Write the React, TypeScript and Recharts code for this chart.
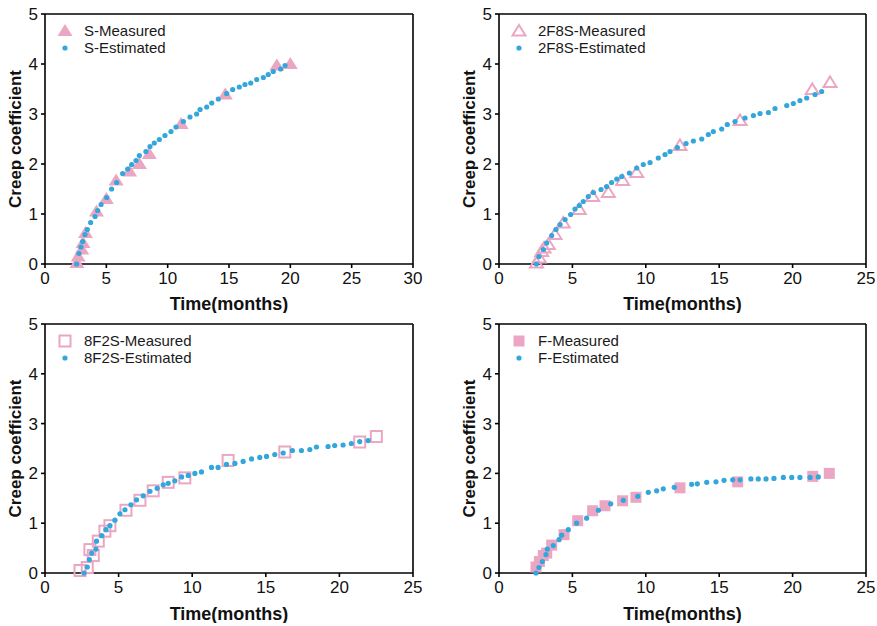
import React from 'react';
import { ScatterChart, Scatter, XAxis, YAxis, ReferenceLine, Legend } from 'recharts';

// measured / estimated creep coefficient vs time (months)
const sMeasured = [
  [2.6, 0.02], [2.7, 0.15], [3.0, 0.29], [3.1, 0.42], [3.3, 0.62], [4.2, 1.05], [5.0, 1.3],
  [5.8, 1.67], [6.9, 1.85], [7.7, 2.0], [8.5, 2.2], [11.1, 2.8], [14.7, 3.39], [18.9, 3.97], [20.0, 4.0],
];
const sEstimated = [
  [2.58, 0.0], [2.77, 0.21], [2.93, 0.34], [3.07, 0.45], [3.26, 0.59], [3.45, 0.69], [3.72, 0.83],
  [4.08, 0.95], [4.29, 1.07], [4.57, 1.19], [5.03, 1.33], [5.43, 1.5], [5.84, 1.63], [6.33, 1.81],
  [6.74, 1.9], [7.07, 1.99], [7.42, 2.07], [7.69, 2.17], [8.23, 2.25], [8.56, 2.35], [8.91, 2.42],
  [9.32, 2.49], [9.78, 2.57], [10.27, 2.65], [10.68, 2.74], [11.28, 2.85], [11.82, 2.94], [12.36, 3.0],
  [12.64, 3.09], [13.18, 3.14], [13.59, 3.22], [14.13, 3.3], [14.81, 3.41], [15.3, 3.49], [15.84, 3.54],
  [16.3, 3.59], [16.77, 3.62], [17.26, 3.69], [17.8, 3.73], [18.2, 3.79], [18.61, 3.85], [19.21, 3.9],
  [19.57, 3.97],
];

const f2s8Measured = [
  [2.55, 0.02], [2.75, 0.12], [2.91, 0.25], [3.07, 0.32], [3.36, 0.39], [3.81, 0.59], [4.38, 0.82],
  [5.47, 1.09], [6.38, 1.35], [7.45, 1.43], [8.42, 1.67], [9.38, 1.83], [12.33, 2.37], [16.42, 2.87],
  [21.34, 3.49], [22.55, 3.63],
];
const f2s8Estimated = [
  [2.55, 0.0], [2.72, 0.15], [3.02, 0.29], [3.25, 0.42], [3.59, 0.57], [3.88, 0.69], [4.16, 0.79],
  [4.5, 0.89], [4.88, 0.99], [5.18, 1.1], [5.47, 1.17], [5.74, 1.25], [6.08, 1.35], [6.43, 1.43],
  [6.95, 1.49], [7.33, 1.55], [7.67, 1.63], [8.02, 1.7], [8.36, 1.75], [8.88, 1.82], [9.38, 1.92],
  [9.83, 1.99], [10.29, 2.03], [10.85, 2.12], [11.31, 2.19], [11.65, 2.25], [12.15, 2.33], [12.74, 2.41],
  [13.24, 2.46], [13.81, 2.5], [14.26, 2.59], [14.6, 2.65], [15.17, 2.7], [15.55, 2.79], [16.08, 2.85],
  [16.76, 2.92], [17.33, 2.97], [17.78, 3.01], [18.35, 3.03], [18.8, 3.11], [19.6, 3.17], [20.05, 3.21],
  [20.5, 3.27], [20.96, 3.32], [21.53, 3.39], [21.98, 3.45],
];

const f8s2Measured = [
  [2.38, 0.05], [2.87, 0.11], [3.05, 0.47], [3.28, 0.35], [3.62, 0.64], [4.07, 0.84], [4.41, 0.95],
  [5.5, 1.26], [6.45, 1.46], [7.35, 1.65], [8.37, 1.82], [9.5, 1.91], [12.44, 2.26], [16.29, 2.43],
  [21.38, 2.63], [22.51, 2.74],
];
const f8s2Estimated = [
  [2.65, 0.0], [2.87, 0.12], [3.01, 0.27], [3.17, 0.4], [3.46, 0.48], [3.5, 0.64], [3.85, 0.75],
  [4.14, 0.87], [4.41, 0.95], [4.75, 1.06], [5.09, 1.19], [5.43, 1.27], [5.84, 1.37], [6.22, 1.47],
  [6.67, 1.55], [7.13, 1.64], [7.62, 1.7], [8.03, 1.77], [8.37, 1.8], [8.82, 1.85], [9.28, 1.93],
  [9.73, 1.96], [10.18, 2.0], [10.63, 2.03], [11.31, 2.12], [11.76, 2.12], [12.33, 2.18], [12.9, 2.2],
  [13.46, 2.24], [14.03, 2.29], [14.59, 2.32], [15.05, 2.34], [15.61, 2.38], [16.18, 2.41], [16.81, 2.46],
  [17.42, 2.46], [17.99, 2.48], [18.44, 2.53], [19.23, 2.54], [19.68, 2.56], [20.25, 2.57], [20.81, 2.6],
  [21.38, 2.64], [21.95, 2.66],
];

const fMeasured = [
  [2.52, 0.12], [2.75, 0.23], [3.02, 0.35], [3.25, 0.4], [3.59, 0.56], [4.43, 0.77], [5.36, 1.05],
  [6.38, 1.25], [7.22, 1.35], [8.42, 1.45], [9.33, 1.52], [12.33, 1.71], [16.26, 1.83], [21.37, 1.94],
  [22.5, 2.0],
];
const fEstimated = [
  [2.52, 0.0], [2.72, 0.11], [2.95, 0.23], [3.2, 0.37], [3.29, 0.48], [3.7, 0.55], [4.09, 0.67],
  [4.27, 0.76], [4.72, 0.87], [5.29, 1.0], [5.97, 1.1], [6.77, 1.26], [7.61, 1.39], [8.47, 1.46],
  [9.45, 1.54], [10.17, 1.62], [10.74, 1.65], [11.19, 1.69], [11.94, 1.72], [13.12, 1.78], [13.51, 1.79],
  [14.15, 1.82], [14.78, 1.83], [15.33, 1.86], [15.92, 1.87], [16.42, 1.87], [17.16, 1.89], [17.66, 1.89],
  [18.19, 1.89], [18.73, 1.9], [19.37, 1.92], [19.94, 1.92], [20.5, 1.92], [21.19, 1.92], [21.75, 1.93],
];

const yTicks = [0, 1, 2, 3, 4, 5];
const xTicks30 = [0, 5, 10, 15, 20, 25, 30];
const xTicks25 = [0, 5, 10, 15, 20, 25];

const PINK = '#eba6c4';
const BLUE = '#33a6db';
const FONT = '"Liberation Sans", Arial, sans-serif';

const toPoints = (arr: number[][]) => arr.map(([x, y]) => ({ x, y }));

type MarkerKind = 'triangle' | 'triangleOpen' | 'squareOpen' | 'square' | 'dot';

const Marker = ({ kind, cx, cy }: { kind: MarkerKind; cx: number; cy: number }) => {
  if (kind === 'triangle') {
    return <path d={`M${cx},${cy - 7} L${cx + 7.5},${cy + 5} L${cx - 7.5},${cy + 5} Z`} fill={PINK} />;
  }
  if (kind === 'triangleOpen') {
    return (
      <path d={`M${cx},${cy - 6} L${cx + 6.5},${cy + 4.5} L${cx - 6.5},${cy + 4.5} Z`}
        fill="none" stroke={PINK} strokeWidth={2} />
    );
  }
  if (kind === 'squareOpen') {
    return <rect x={cx - 5.5} y={cy - 5.5} width={11} height={11} fill="none" stroke={PINK} strokeWidth={2} />;
  }
  if (kind === 'square') {
    return <rect x={cx - 5.5} y={cy - 5.5} width={11} height={11} fill={PINK} />;
  }
  return <circle cx={cx} cy={cy} r={2.6} fill={BLUE} />;
};

const LegendBox = ({ kind, name }: { kind: MarkerKind; name: string }) => (
  <div style={{ fontFamily: FONT, fontSize: 15, color: '#1a1a1a', lineHeight: '17px' }}>
    {[
      { k: kind, label: `${name}-Measured` },
      { k: 'dot' as MarkerKind, label: `${name}-Estimated` },
    ].map((row) => (
      <div key={row.label} style={{ display: 'flex', alignItems: 'center', height: 17 }}>
        <svg width={16} height={16} style={{ marginRight: 11 }}>
          <Marker kind={row.k} cx={8} cy={8} />
        </svg>
        <span>{row.label}</span>
      </div>
    ))}
  </div>
);

interface PanelProps {
  left: number;
  top: number;
  width: number;
  yAxisWidth: number;
  rightMargin: number;
  xAxisHeight: number;
  xMax: number;
  xTicks: number[];
  name: string;
  kind: MarkerKind;
  measured: number[][];
  estimated: number[][];
}

const Panel = (p: PanelProps) => {
  const axisStyle = { stroke: '#000', strokeWidth: 1.6 };
  const tickStyle = { fill: '#111', fontSize: 17, fontFamily: FONT };
  return (
    <div style={{ position: 'absolute', left: p.left, top: p.top }}>
      <ScatterChart width={p.width} height={313} margin={{ top: 14, right: p.rightMargin, bottom: 0, left: 0 }}>
        <XAxis type="number" dataKey="x" domain={[0, p.xMax]} ticks={p.xTicks} height={p.xAxisHeight}
          axisLine={axisStyle} tickLine={axisStyle} tickSize={4} tickMargin={4} tick={tickStyle}
          label={{ value: 'Time(months)', position: 'insideBottom', offset: 3, fill: '#111', fontSize: 18,
            fontWeight: 'bold', fontFamily: FONT }} />
        <YAxis type="number" dataKey="y" domain={[0, 5]} ticks={yTicks} width={p.yAxisWidth}
          axisLine={axisStyle} tickLine={axisStyle} tickSize={4} tickMargin={3} tick={tickStyle}
          label={{ value: 'Creep coefficient', angle: -90, position: 'insideLeft', offset: p.yAxisWidth - 30,
            style: { textAnchor: 'middle' }, fill: '#111', fontSize: 17, fontWeight: 'bold', fontFamily: FONT }} />
        <ReferenceLine y={5} stroke="#000" strokeWidth={1.6} />
        <ReferenceLine x={p.xMax} stroke="#000" strokeWidth={1.6} />
        <Legend layout="horizontal" verticalAlign="middle" align="center"
          wrapperStyle={{ position: 'absolute', left: p.yAxisWidth + 12, top: 22, width: 'auto' }}
          content={() => <LegendBox kind={p.kind} name={p.name} />} />
        <Scatter data={toPoints(p.measured)} isAnimationActive={false}
          shape={(s: any) => <Marker kind={p.kind} cx={s.cx} cy={s.cy} />} />
        <Scatter data={toPoints(p.estimated)} isAnimationActive={false}
          shape={(s: any) => <Marker kind="dot" cx={s.cx} cy={s.cy} />} />
      </ScatterChart>
    </div>
  );
};

export default function App() {
  return (
    <div style={{ position: 'absolute', left: 0, top: 0, width: 877, height: 626, background: '#fff' }}>
      <Panel left={0} top={0} width={440} yAxisWidth={45} rightMargin={27} xAxisHeight={49}
        xMax={30} xTicks={xTicks30} name="S" kind="triangle" measured={sMeasured} estimated={sEstimated} />
      <Panel left={440} top={0} width={437} yAxisWidth={59} rightMargin={11} xAxisHeight={49}
        xMax={25} xTicks={xTicks25} name="2F8S" kind="triangleOpen" measured={f2s8Measured} estimated={f2s8Estimated} />
      <Panel left={0} top={310} width={440} yAxisWidth={45} rightMargin={27} xAxisHeight={50}
        xMax={25} xTicks={xTicks25} name="8F2S" kind="squareOpen" measured={f8s2Measured} estimated={f8s2Estimated} />
      <Panel left={440} top={310} width={437} yAxisWidth={59} rightMargin={11} xAxisHeight={50}
        xMax={25} xTicks={xTicks25} name="F" kind="square" measured={fMeasured} estimated={fEstimated} />
    </div>
  );
}
